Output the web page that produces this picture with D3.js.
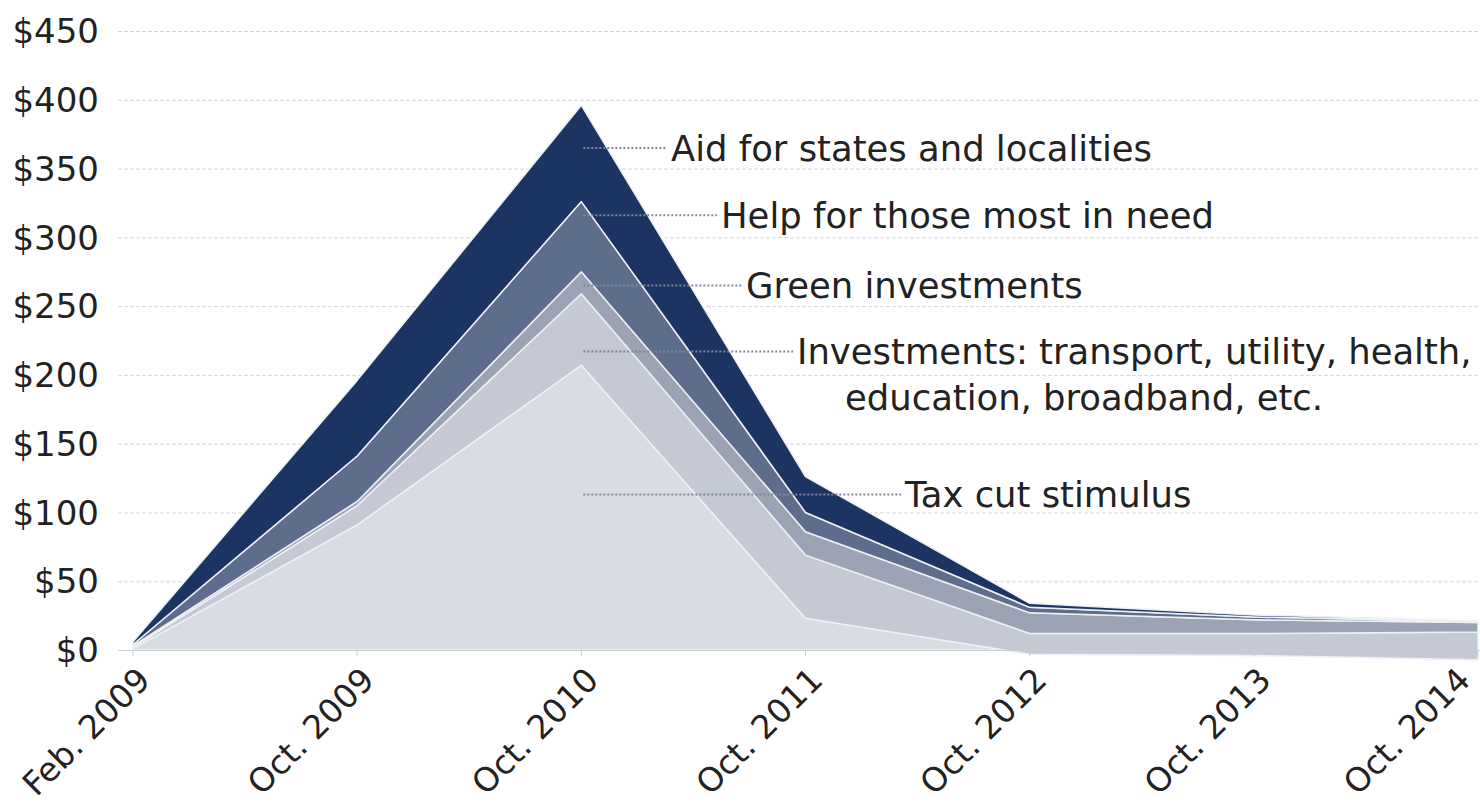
<!DOCTYPE html>
<html>
<head>
<meta charset="utf-8">
<script src="https://cdn.jsdelivr.net/npm/d3@7"></script>
<style>
  body { margin: 0; background: #fff; }
  svg { display: block; font-family: "DejaVu Sans", Verdana, sans-serif; }
</style>
</head>
<body>
<div id="chart"></div>
<script>
// x categories
var dates = ["Feb. 2009", "Oct. 2009", "Oct. 2010", "Oct. 2011", "Oct. 2012", "Oct. 2013", "Oct. 2014"];

// series values, $ billions (stacked bottom -> top)
var taxCut = [1, 91, 207, 23, -3, -4, -7];
var investments = [1, 14, 52, 46, 15, 16, 20];
var green = [1, 3, 16, 17, 15, 10, 7];
var help = [1, 33, 51, 14, 4, 2, 0.5];
var aid = [2, 55, 70, 26, 3, 1.5, 0.5];

var yTicks = [0, 50, 100, 150, 200, 250, 300, 350, 400, 450];

// annotation labels, leader height in $ and text lines
var labelText = [
  ["Aid for states and localities"],
  ["Help for those most in need"],
  ["Green investments"],
  ["Investments: transport, utility, health,", "education, broadband, etc."],
  ["Tax cut stimulus"]
];
var labelValue = [365, 316, 265, 217, 113];

const width = 1480, height = 807;
const margin = { t: 31, r: 2, b: 157, l: 133 };

var keys = ["taxCut", "investments", "green", "help", "aid"];
var colors = ["#d9dce3", "#c5c9d4", "#9ba3b5", "#5e6d8c", "#1c3461"];

var rows = dates.map(function (d, i) {
  return { date: d, taxCut: taxCut[i], investments: investments[i], green: green[i], help: help[i], aid: aid[i] };
});

var svg = d3.select("#chart")
  .append("svg")
  .attr("width", width)
  .attr("height", height);

var scale = {
  x: d3.scalePoint().domain(dates).range([margin.l, width - margin.r]),
  y: d3.scaleLinear().domain([0, 450]).range([height - margin.b, margin.t])
};

// gridlines
svg.append("g")
  .selectAll("line")
  .data(yTicks)
  .join("line")
  .attr("x1", 118)
  .attr("x2", width)
  .attr("y1", (d) => scale.y(d) + 0.5)
  .attr("y2", (d) => scale.y(d) + 0.5)
  .attr("stroke", "#d3d6de")
  .attr("stroke-width", 1)
  .attr("stroke-dasharray", "4,2");

// y-axis labels
svg.append("g")
  .selectAll("text")
  .data(yTicks)
  .join("text")
  .attr("x", 99)
  .attr("y", (d) => scale.y(d))
  .attr("dy", "0.36em")
  .attr("text-anchor", "end")
  .attr("font-size", 34)
  .attr("fill", "#222")
  .text((d) => "$" + d);

// stacked areas
var series = d3.stack().keys(keys)(rows);

var area = d3.area()
  .x((d) => scale.x(d.data.date))
  .y0((d) => scale.y(d[0]))
  .y1((d) => scale.y(d[1]));

svg.append("g")
  .selectAll("path")
  .data(series)
  .join("path")
  .attr("d", area)
  .attr("fill", (d, i) => colors[i])
  .attr("stroke", "#eef0f4")
  .attr("stroke-width", 1.5)
  .attr("stroke-linejoin", "round");

// x-axis line and ticks
svg.append("line")
  .attr("x1", 118)
  .attr("x2", width)
  .attr("y1", scale.y(0) + 0.5)
  .attr("y2", scale.y(0) + 0.5)
  .attr("stroke", "#c8ccd4");

svg.append("g")
  .selectAll("line")
  .data(dates)
  .join("line")
  .attr("x1", (d) => scale.x(d))
  .attr("x2", (d) => scale.x(d))
  .attr("y1", scale.y(0))
  .attr("y2", scale.y(0) + 6)
  .attr("stroke", "#c8ccd4");

// rotated labels, the last one kept inside the right edge
svg.append("g")
  .selectAll("text")
  .data(dates)
  .join("text")
  .attr("transform", (d) => "translate(" + Math.min(scale.x(d) + 19, width - 8) + "," + 682 + ") rotate(-45)")
  .attr("text-anchor", "end")
  .attr("font-size", 33)
  .attr("fill", "#222")
  .text((d) => d);

// annotations with dotted leaders from the Oct. 2010 peak
var leaderStart = scale.x("Oct. 2010") + 2;
var textStart = [671, 721, 746, 797, 905];

var notes = svg.append("g")
  .selectAll("g")
  .data(labelText)
  .join("g");

notes.append("line")
  .attr("x1", leaderStart)
  .attr("x2", (d, i) => textStart[i] - 4)
  .attr("y1", (d, i) => scale.y(labelValue[i]))
  .attr("y2", (d, i) => scale.y(labelValue[i]))
  .attr("stroke", "#7d879c")
  .attr("stroke-width", 2)
  .attr("stroke-dasharray", "2,2");

notes.append("text")
  .attr("font-size", 35.4)
  .attr("fill", "#222")
  .attr("y", (d, i) => scale.y(labelValue[i]))
  .selectAll("tspan")
  .data((d, i) => d.map(function (t, j) { return { t: t, j: j, i: i }; }))
  .join("tspan")
  .attr("x", (d) => d.j === 0 ? textStart[d.i] : 845)
  .attr("dy", (d) => d.j === 0 ? "0.36em" : "1.3em")
  .text((d) => d.t);
</script>
</body>
</html>
